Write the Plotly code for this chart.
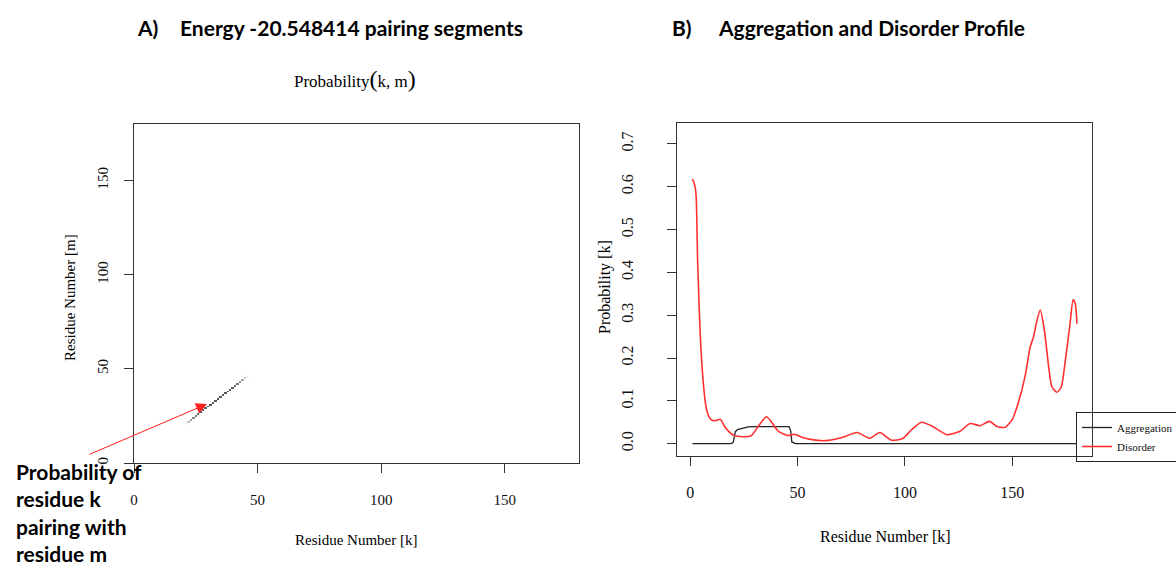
import plotly.graph_objects as go

W, H = 1176, 563

# ---------------- data ----------------
# Panel A: pairing probability cells (k, m)
pair_k = list(range(21, 47))
pair_m = list(range(21, 47))
pair_p = [0.1, 0.25, 0.4, 0.5, 0.55, 0.6, 0.62, 0.64, 0.64, 0.66, 0.66, 0.66, 0.66,
          0.66, 0.66, 0.66, 0.66, 0.64, 0.64, 0.62, 0.6, 0.55, 0.45, 0.35, 0.22, 0.1]

# Panel B: aggregation profile
agg_k = [1, 19, 20, 21, 22, 24, 27, 30, 46, 46.8, 47.3, 49, 180]
agg_v = [0, 0, 0.003, 0.028, 0.033, 0.036, 0.039, 0.040, 0.040, 0.030, 0.004, 0, 0]

# Panel B: disorder profile
dis_k = [1, 2, 2.7, 3.4, 4.5, 5.8, 7.3, 8.5, 10, 12, 14, 16, 18, 20, 24.5, 28.5, 32,
         35.5, 37.5, 41, 45.5, 48.5, 52, 56, 63, 71, 77.7, 83.6, 88.3, 93.8, 99, 103,
         107.8, 113, 119.5, 125.7, 130.4, 135, 139.4, 143, 146.7, 150, 153, 156, 158.4,
         160, 161.2, 163.1, 165, 167, 168.5, 170.9, 172.9, 174.8, 176.8, 178.4, 179.4, 180.2]
dis_v = [0.618, 0.605, 0.58, 0.43, 0.27, 0.157, 0.087, 0.065, 0.055, 0.054, 0.057, 0.040,
         0.028, 0.020, 0.016, 0.019, 0.043, 0.063, 0.053, 0.029, 0.019, 0.022, 0.015, 0.010,
         0.007, 0.015, 0.026, 0.013, 0.026, 0.008, 0.012, 0.032, 0.050, 0.040, 0.021, 0.029,
         0.047, 0.042, 0.052, 0.040, 0.038, 0.056, 0.098, 0.157, 0.226, 0.25, 0.28, 0.312,
         0.265, 0.18, 0.133, 0.12, 0.133, 0.195, 0.273, 0.336, 0.327, 0.28]

ticks_a = [0, 50, 100, 150]
ticks_bx = [0, 50, 100, 150]
ticks_by = [0, 0.1, 0.2, 0.3, 0.4, 0.5, 0.6, 0.7]

# ---------------- helpers ----------------
def px(x):
    return x / W

def py(y):
    return 1 - y / H

SERIF = "Liberation Serif"
SANS = "Lato"

fig = go.Figure()

fig.add_trace(go.Heatmap(
    x=pair_k, y=pair_m, z=pair_p, xaxis="x", yaxis="y",
    colorscale=[[0, "white"], [1, "black"]], zmin=0, zmax=1,
    showscale=False, hoverinfo="skip", showlegend=False))

fig.add_trace(go.Scatter(
    x=agg_k, y=agg_v, xaxis="x2", yaxis="y2", mode="lines", name="Aggregation",
    line=dict(color="#222222", width=1.3)))

fig.add_trace(go.Scatter(
    x=dis_k, y=dis_v, xaxis="x2", yaxis="y2", mode="lines", name="Disorder",
    line=dict(color="#ff3030", width=1.6, shape="spline", smoothing=0.6)))

axis_common = dict(showgrid=False, zeroline=False, showline=True, mirror=True,
                   linecolor="#333333", linewidth=1.2, ticks="outside",
                   tickcolor="#333333", tickwidth=1.2, ticklen=9)

fig.update_layout(
    width=W, height=H,
    margin=dict(l=0, r=0, t=0, b=0, autoexpand=False),
    paper_bgcolor="white", plot_bgcolor="white",
    xaxis=dict(domain=[px(134), px(579)], range=[0, 180], anchor="y",
               tickvals=ticks_a, ticklabelstandoff=14,
               tickfont=dict(family=SERIF, size=15, color="#111"), **axis_common),
    yaxis=dict(domain=[py(463), py(124)], range=[0, 180], anchor="x",
               tickvals=ticks_a, tickangle=-90, ticklabelstandoff=10,
               tickfont=dict(family=SERIF, size=15, color="#111"), **axis_common),
    xaxis2=dict(domain=[px(677), px(1092)], range=[-6.2, 187.2], anchor="y2",
                tickvals=ticks_bx, ticklabelstandoff=13,
                tickfont=dict(family=SERIF, size=16, color="#111"), **axis_common),
    yaxis2=dict(domain=[py(456), py(123)], range=[-0.0288, 0.7488], anchor="x2",
                tickvals=ticks_by, tickformat=".1f", tickangle=-90, ticklabelstandoff=28,
                tickfont=dict(family=SERIF, size=16, color="#111"), **axis_common),
    legend=dict(x=px(1076), y=py(412), xanchor="left", yanchor="top",
                bgcolor="rgba(0,0,0,0)", bordercolor="#222", borderwidth=1,
                font=dict(family=SERIF, size=11, color="#111"),
                itemwidth=30, tracegroupgap=0, entrywidth=80, entrywidthmode="pixels"),
    showlegend=True,
)

ann = []
def text(x, y, s, size, family, bold=False, xanchor="center", yanchor="middle",
         angle=0, align="left"):
    ann.append(dict(x=px(x), y=py(y), xref="paper", yref="paper", text=s,
                    showarrow=False, xanchor=xanchor, yanchor=yanchor, textangle=angle,
                    align=align,
                    font=dict(family=family, size=size, color="black",
                              weight="bold" if bold else "normal")))

# panel titles
text(135, 27, "A)", 21, SANS, True, xanchor="left")
text(178, 27, "Energy -20.548414 pairing segments", 21, SANS, True, xanchor="left")
text(670, 27, "B)", 21, SANS, True, xanchor="left")
text(716, 27, "Aggregation and Disorder Profile", 21, SANS, True, xanchor="left")

# panel A plot title
text(355, 79, "Probability<span style='font-size:24px'>(</span>k, m<span style='font-size:24px'>)</span>",
     17, SERIF)

# axis titles
text(356, 540, "Residue Number [k]", 15, SERIF)
text(70, 298, "Residue Number [m]", 15, SERIF, angle=-90)
text(885, 536, "Residue Number [k]", 16, SERIF)
text(605, 287, "Probability [k]", 16, SERIF, angle=-90)

# annotation
text(14, 512, "Probability of<br>residue k<br>pairing with<br>residue m", 21, SANS, True,
     xanchor="left", align="left")

ann.append(dict(x=px(207), y=py(404), xref="paper", yref="paper", text="",
                showarrow=True, ax=-119, ay=51, axref="pixel", ayref="pixel",
                arrowcolor="#ff2020", arrowwidth=1, arrowhead=2, arrowsize=2.2))

fig.update_layout(annotations=ann)

fig.write_html("out.html", config={"displayModeBar": False},
               post_script="document.body.style.margin='0';document.body.style.overflow='hidden';")
